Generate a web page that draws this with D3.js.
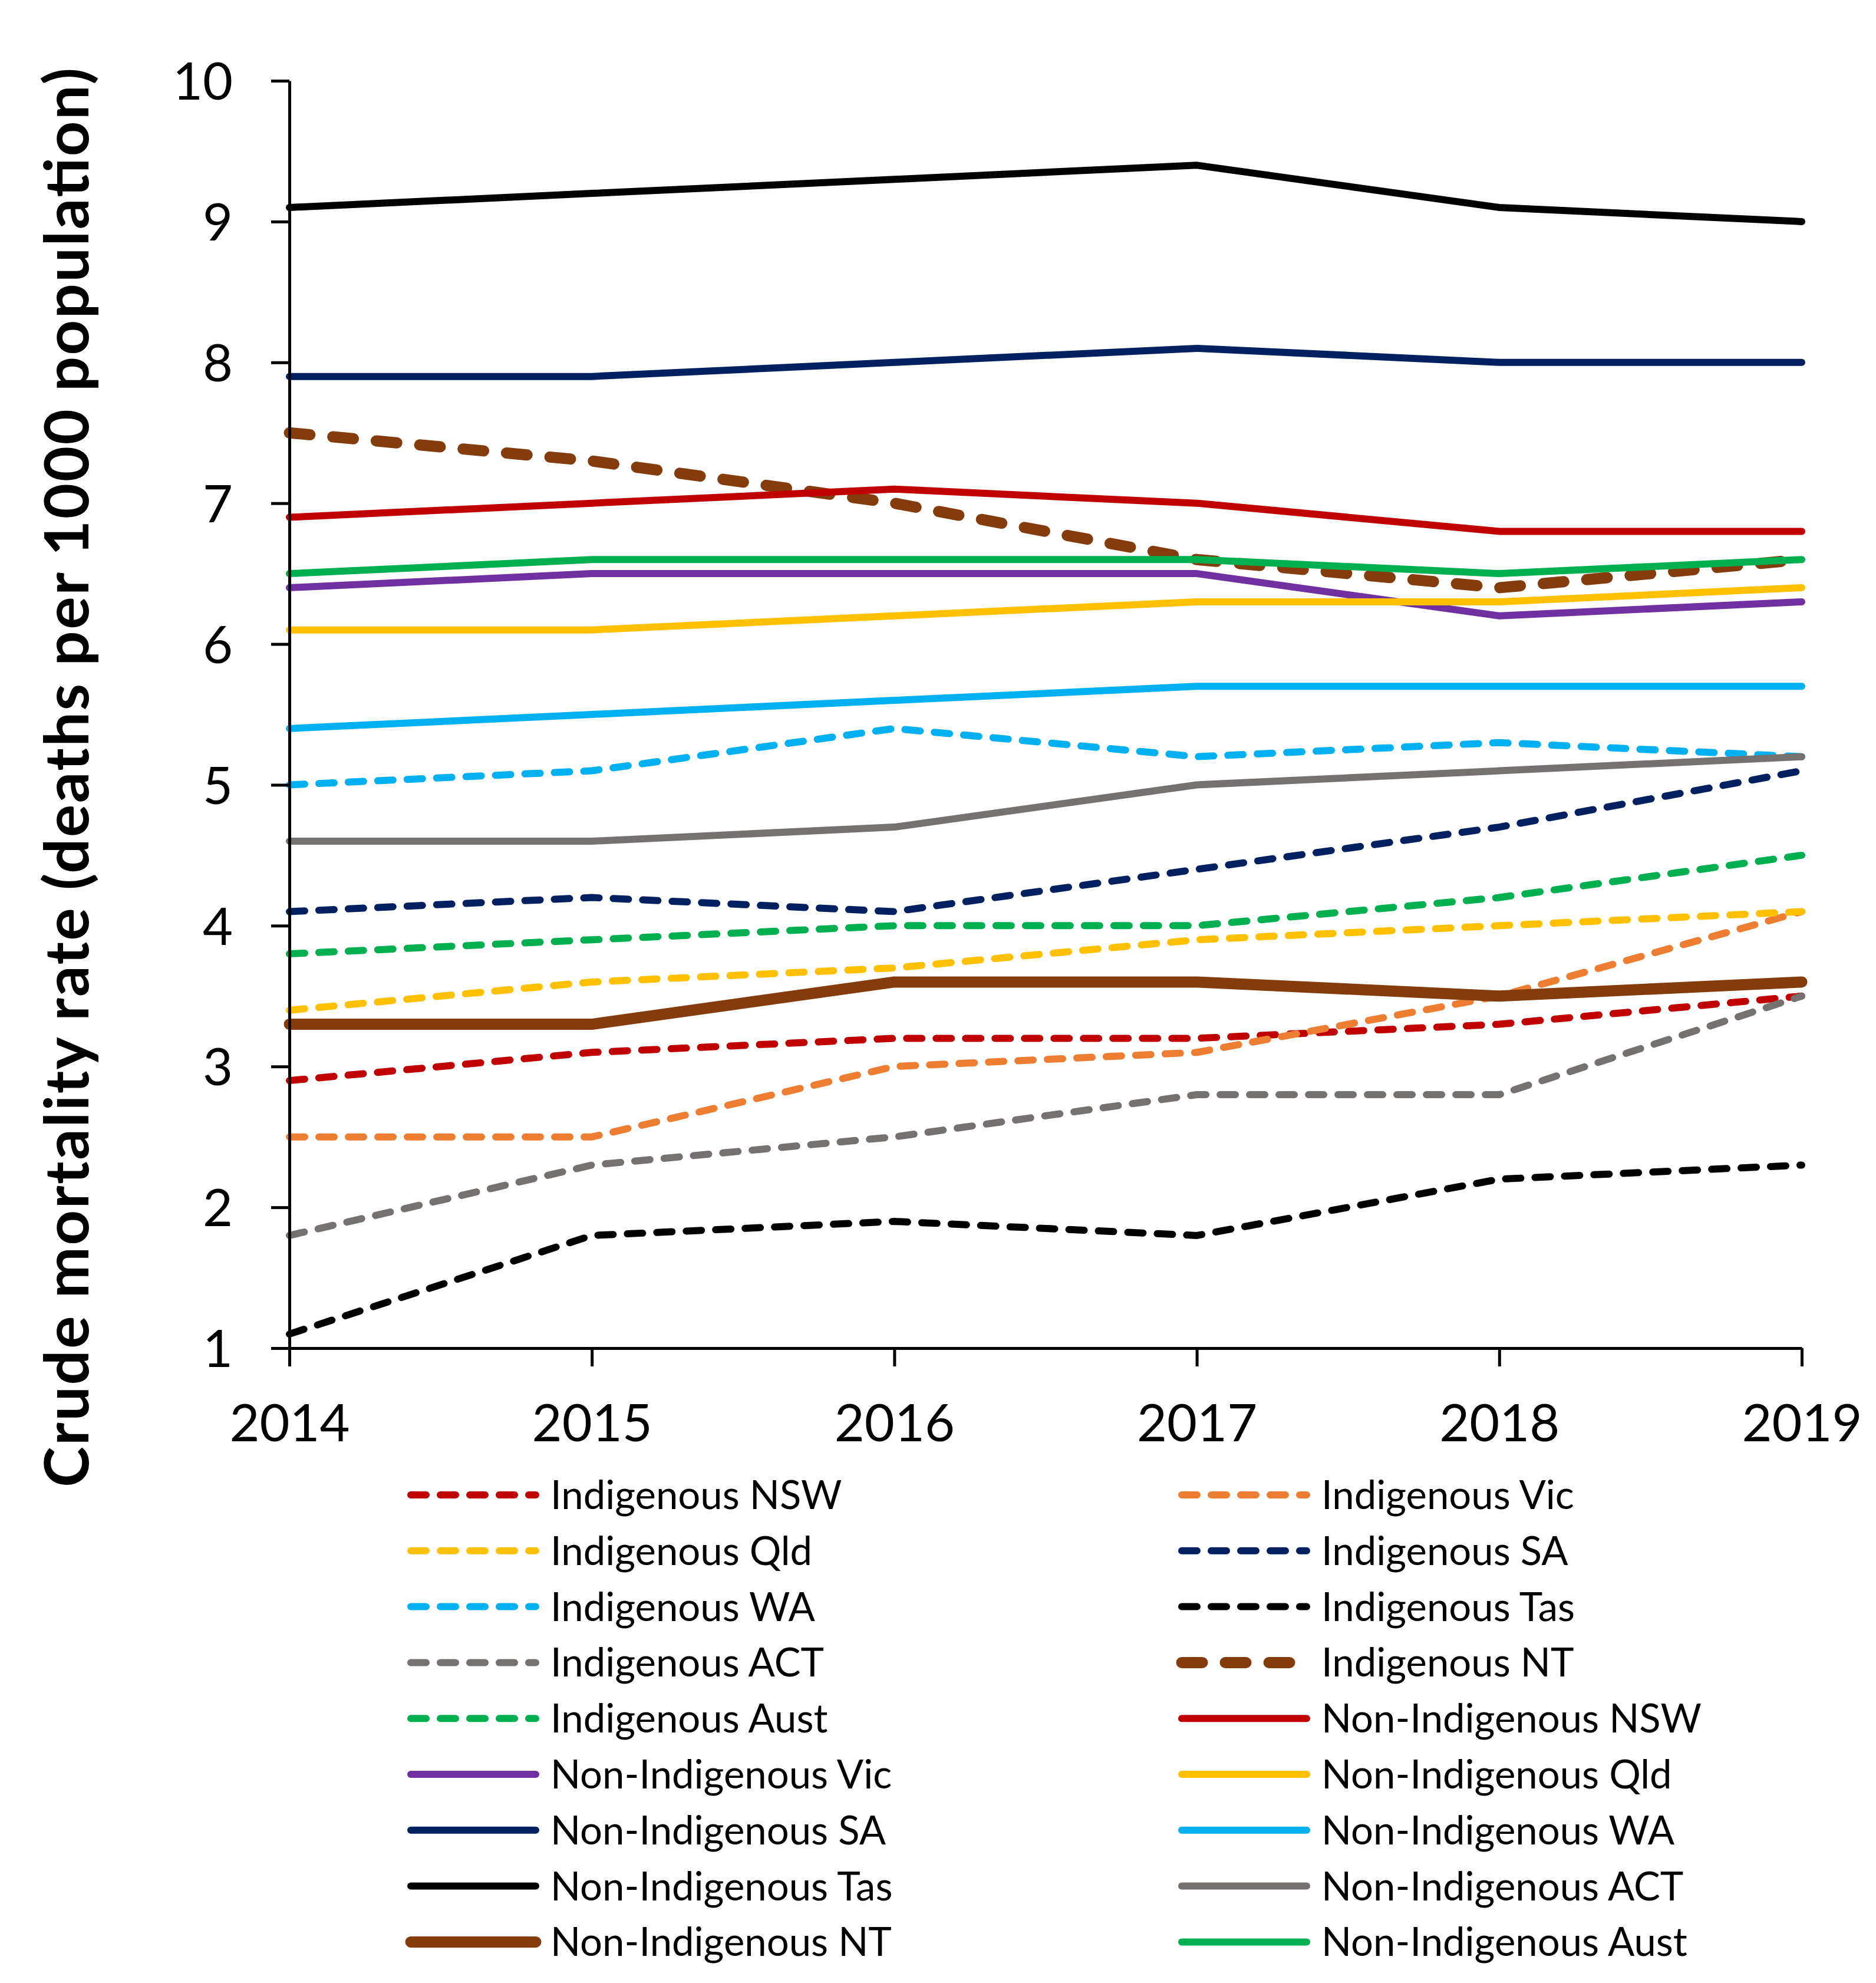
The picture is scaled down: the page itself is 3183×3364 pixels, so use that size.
<!DOCTYPE html>
<html>
<head>
<meta charset="utf-8">
<script src="https://cdnjs.cloudflare.com/ajax/libs/d3/7.8.5/d3.min.js"></script>
<style>
  html, body { margin: 0; padding: 0; background: #fff; }
  svg { display: block; font-family: Lato, "Open Sans", sans-serif; }
</style>
</head>
<body>
<div id="chart"></div>
<script>
// Years on the x axis
const years = [2014, 2015, 2016, 2017, 2018, 2019];
const yTicks = [1, 2, 3, 4, 5, 6, 7, 8, 9, 10];

// Series names, in legend / drawing order
const seriesNames = [
  'Indigenous NSW', 'Indigenous Vic', 'Indigenous Qld', 'Indigenous SA',
  'Indigenous WA', 'Indigenous Tas', 'Indigenous ACT', 'Indigenous NT',
  'Indigenous Aust', 'Non-Indigenous NSW', 'Non-Indigenous Vic', 'Non-Indigenous Qld',
  'Non-Indigenous SA', 'Non-Indigenous WA', 'Non-Indigenous Tas', 'Non-Indigenous ACT',
  'Non-Indigenous NT', 'Non-Indigenous Aust'
];

// Crude mortality rates (deaths per 1000 population)
const indigNSW  = [2.9, 3.1, 3.2, 3.2, 3.3, 3.5];
const indigVic  = [2.5, 2.5, 3.0, 3.1, 3.5, 4.1];
const indigQld  = [3.4, 3.6, 3.7, 3.9, 4.0, 4.1];
const indigSA   = [4.1, 4.2, 4.1, 4.4, 4.7, 5.1];
const indigWA   = [5.0, 5.1, 5.4, 5.2, 5.3, 5.2];
const indigTas  = [1.1, 1.8, 1.9, 1.8, 2.2, 2.3];
const indigACT  = [1.8, 2.3, 2.5, 2.8, 2.8, 3.5];
const indigNT   = [7.5, 7.3, 7.0, 6.6, 6.4, 6.6];
const indigAust = [3.8, 3.9, 4.0, 4.0, 4.2, 4.5];
const nonNSW    = [6.9, 7.0, 7.1, 7.0, 6.8, 6.8];
const nonVic    = [6.4, 6.5, 6.5, 6.5, 6.2, 6.3];
const nonQld    = [6.1, 6.1, 6.2, 6.3, 6.3, 6.4];
const nonSA     = [7.9, 7.9, 8.0, 8.1, 8.0, 8.0];
const nonWA     = [5.4, 5.5, 5.6, 5.7, 5.7, 5.7];
const nonTas    = [9.1, 9.2, 9.3, 9.4, 9.1, 9.0];
const nonACT    = [4.6, 4.6, 4.7, 5.0, 5.1, 5.2];
const nonNT     = [3.3, 3.3, 3.6, 3.6, 3.5, 3.6];
const nonAust   = [6.5, 6.6, 6.6, 6.6, 6.5, 6.6];

const seriesValues = [
  indigNSW, indigVic, indigQld, indigSA, indigWA, indigTas, indigACT, indigNT, indigAust,
  nonNSW, nonVic, nonQld, nonSA, nonWA, nonTas, nonACT, nonNT, nonAust
];

const seriesColors = [
  '#C00000', '#ED7D31', '#FFC000', '#002060', '#00B0F0', '#000000', '#767171', '#843C0C', '#00B050',
  '#C00000', '#7030A0', '#FFC000', '#002060', '#00B0F0', '#000000', '#767171', '#843C0C', '#00B050'
];

const width = 3183, height = 3364;
const plot = { left: 491, right: 3057, top: 137, bottom: 2287 };

// line style helpers
function strokeW(name) { return name.endsWith(' NT') ? 19 : 12; }
function dashes(name) {
  if (name.startsWith('Non-')) return null;
  return name.endsWith(' NT') ? '35,39' : '26,24';
}

const series = seriesNames.map((name, i) => ({
  name: name,
  color: seriesColors[i],
  values: seriesValues[i].map((v, j) => ({ year: years[j], value: v }))
}));

const svg = d3.select('#chart')
  .append('svg')
  .attr('width', width)
  .attr('height', height);

svg.append('rect').attr('width', width).attr('height', height).attr('fill', '#fff');

const x = d3.scaleLinear().domain([2014, 2019]).range([plot.left, plot.right]);
const y = d3.scaleLinear().domain([1, 10]).range([plot.bottom, plot.top]);

// Lines
const line = d3.line()
  .x(d => x(d.year))
  .y(d => y(d.value));

svg.append('g')
  .attr('class', 'lines')
  .selectAll('path')
  .data(series)
  .enter()
  .append('path')
  .attr('d', d => line(d.values))
  .attr('fill', 'none')
  .attr('stroke', d => d.color)
  .attr('stroke-width', d => strokeW(d.name))
  .attr('stroke-dasharray', d => dashes(d.name))
  .attr('stroke-linecap', 'round')
  .attr('stroke-linejoin', 'round');

// Axes
const yAxis = svg.append('g')
  .attr('transform', `translate(${plot.left},0)`)
  .call(d3.axisLeft(y).tickValues(yTicks).tickFormat(d3.format('d')).tickSize(31).tickSizeOuter(0));

const xAxis = svg.append('g')
  .attr('transform', `translate(0,${plot.bottom})`)
  .call(d3.axisBottom(x).tickValues(years).tickFormat(d => d).tickSize(31).tickSizeOuter(0));

[yAxis, xAxis].forEach(ax => {
  ax.select('.domain').attr('stroke', '#000').attr('stroke-width', 5);
  ax.selectAll('.tick line').attr('stroke', '#000').attr('stroke-width', 5);
  ax.selectAll('text')
    .attr('fill', '#000')
    .style('font-family', 'Lato, sans-serif')
    .style('font-size', '88px');
});

yAxis.selectAll('text').attr('x', -96).attr('dy', '0.36em');
xAxis.selectAll('text').attr('y', 158).attr('dy', 0);

// Y axis title
svg.append('text')
  .attr('transform', 'translate(150,1319) rotate(-90)')
  .attr('text-anchor', 'middle')
  .attr('textLength', 2408)
  .attr('lengthAdjust', 'spacing')
  .style('font-family', 'Lato, sans-serif')
  .style('font-weight', 'bold')
  .style('font-size', '104px')
  .attr('fill', '#000')
  .text('Crude mortality rate (deaths per 1000 population)');

// Legend: two columns, filled row by row
const legendCols = [697, 2005];
const legendTop = 2536, legendStep = 94.8, sampleLen = 212;

const legend = svg.append('g')
  .attr('class', 'legend')
  .selectAll('g')
  .data(series)
  .enter()
  .append('g')
  .attr('transform', (d, i) => `translate(${legendCols[i % 2]},${legendTop + Math.floor(i / 2) * legendStep})`);

legend.append('line')
  .attr('x1', 0)
  .attr('x2', sampleLen)
  .attr('stroke', d => d.color)
  .attr('stroke-width', d => strokeW(d.name))
  .attr('stroke-dasharray', d => dashes(d.name))
  .attr('stroke-linecap', 'round');

legend.append('text')
  .attr('x', 237)
  .attr('y', 24)
  .style('font-family', 'Lato, sans-serif')
  .style('font-size', '67px')
  .attr('fill', '#000')
  .text(d => d.name);
</script>
</body>
</html>
